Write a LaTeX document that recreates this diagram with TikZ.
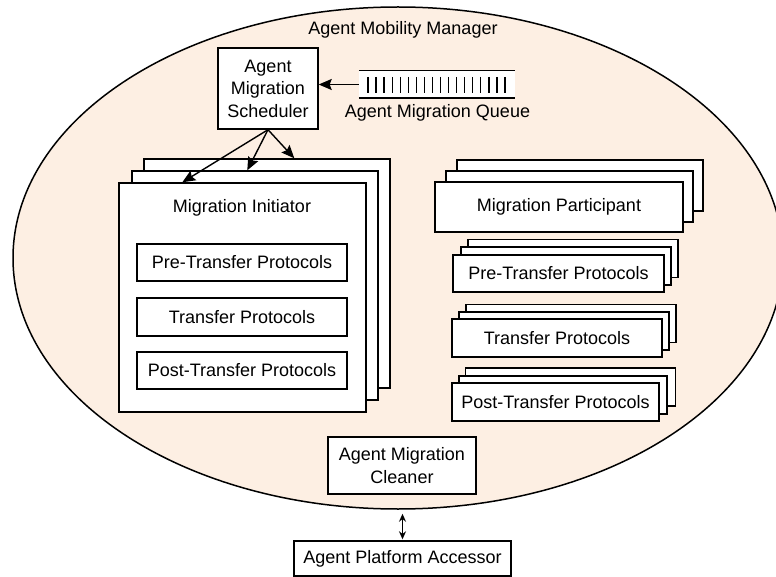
\documentclass[tikz,border=0pt]{standalone}
\usepackage{fontspec}
\setmainfont{Liberation Sans}
\usetikzlibrary{shapes.geometric,arrows.meta}
\definecolor{peach}{RGB}{253,239,227}
\tikzset{
  box/.style={draw, fill=white, line width=1.4pt, inner sep=0pt, align=center},
  txt/.style={inner sep=0pt, align=center},
  arr/.style={line width=1.4pt, -{Stealth[length=13pt,width=11pt,inset=2pt]}},
}
\begin{document}
\begin{tikzpicture}[x=1pt,y=-1pt,font=\fontsize{18}{22.5}\selectfont]
\useasboundingbox (0,0) rectangle (776,577);
% outer ellipse
\node[ellipse, draw, fill=peach, line width=1.5pt, minimum width=770pt, minimum height=502pt, inner sep=0pt] (amm) at (398,258) {};
\node[txt] (ammlabel) at (403,30) {Agent Mobility Manager};
% scheduler
\node[box, minimum width=100pt, minimum height=81pt] (sched) at (268,88.5) {Agent\\Migration\\Scheduler};
% queue
\node[fill=white, inner sep=0pt, minimum width=156pt, minimum height=27pt] (queue) at (437,84.5) {};
\draw[line width=1.4pt] (queue.north west) -- (queue.north east);
\draw[line width=1.4pt] (queue.south west) -- (queue.south east);
\foreach \i in {0,...,17} \draw[line width=1.3pt] (368+\i*8.06,77) -- ++(0,16);
\node[txt] (qlabel) at (437.5,113) {Agent Migration Queue};
\draw[arr] (queue.west) -- (sched.east |- queue.west);
% initiator stack
\node[box, minimum width=246pt, minimum height=229pt] (ib) at (267,273.5) {};
\node[box, minimum width=246pt, minimum height=229pt] (im) at (255,285.5) {};
\node[box, minimum width=247pt, minimum height=229pt] (if) at (242.5,297.5) {};
\node[txt] (ilabel) at (242,208) {Migration Initiator};
\node[box, minimum width=210pt, minimum height=37pt] (ipre) at (242,262.5) {Pre-Transfer Protocols};
\node[box, minimum width=210pt, minimum height=38pt] (itr) at (242,317) {Transfer Protocols};
\node[box, minimum width=210pt, minimum height=37pt] (ipost) at (242,370.5) {Post-Transfer Protocols};
% arrows from scheduler
\draw[arr] (sched.south) -- ([xshift=64pt]if.north west);
\draw[arr] (sched.south) -- ([xshift=116pt]im.north west);
\draw[arr] (sched.south) -- ([xshift=151pt]ib.north west);
% participant stack
\node[box, minimum width=246pt, minimum height=51pt] (pb) at (580,185.5) {};
\node[box, minimum width=247pt, minimum height=51pt] (pm) at (569.5,196.5) {};
\node[box, minimum width=248pt, minimum height=50pt] (pf) at (559,207) {Migration Participant};
% participant pre
\node[box, minimum width=210pt, minimum height=38pt] (ppreb) at (573,258.5) {};
\node[box, minimum width=210pt, minimum height=38pt] (pprem) at (566,266) {};
\node[box, minimum width=211pt, minimum height=37pt] (ppref) at (558.5,273.5) {Pre-Transfer Protocols};
% participant transfer
\node[box, minimum width=210pt, minimum height=38pt] (ptrb) at (571,323.5) {};
\node[box, minimum width=210pt, minimum height=38pt] (ptrm) at (564,331) {};
\node[box, minimum width=210pt, minimum height=38pt] (ptrf) at (557,338) {Transfer Protocols};
% participant post
\node[box, minimum width=210pt, minimum height=38pt] (ppostb) at (570.5,387) {};
\node[box, minimum width=208pt, minimum height=38pt] (ppostm) at (563,395) {};
\node[box, minimum width=207pt, minimum height=38pt] (ppostf) at (555.5,402) {Post-Transfer Protocols};
% cleaner
\node[box, minimum width=148pt, minimum height=57pt] (clean) at (402,465.5) {Agent Migration\\Cleaner};
% accessor
\node[box, minimum width=217pt, minimum height=35pt] (apa) at (402.5,558.5) {Agent Platform Accessor};
\draw[line width=1.4pt, {Stealth[length=8pt,width=7pt]}-{Stealth[length=8pt,width=7pt]}, shorten >=1pt]
  ([yshift=-4pt]apa.north |- amm.south) -- (apa.north);
\end{tikzpicture}
\end{document}
